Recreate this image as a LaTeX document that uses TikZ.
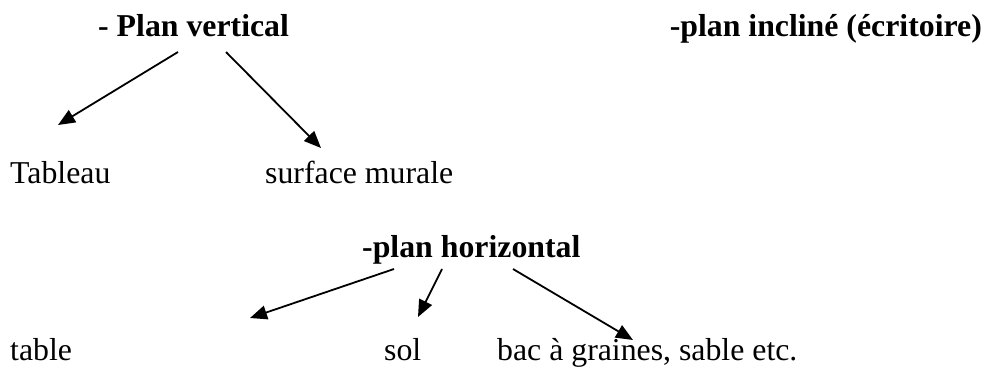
\documentclass[tikz,border=0pt]{standalone}
\usepackage{fontspec}
\setmainfont{Liberation Serif}
\usetikzlibrary{arrows.meta}
\begin{document}
\begin{tikzpicture}[x=1pt,y=-1pt,
  lbl/.style={anchor=base west,inner sep=0pt,font=\fontsize{31.8}{36}\selectfont},
  hdr/.style={lbl,font=\fontsize{31.8}{36}\selectfont\bfseries},
  arr/.style={line width=1.8pt,-{Triangle[length=17pt,width=14pt]}}]
\useasboundingbox (0,0) rectangle (986,373);
\node[hdr] (pv) at (98,36) {- Plan vertical};
\node[hdr,anchor=base east] (pi) at (982,36) {-plan incliné (écritoire)};
\node[lbl] (tab) at (10,183) {Tableau};
\node[lbl] (sm) at (265,183) {surface murale};
\node[hdr] (ph) at (362,257) {-plan horizontal};
\node[lbl] (tbl) at (10,360) {table};
\node[lbl] (sol) at (384,360) {sol};
\node[lbl] (bac) at (497,360) {bac à graines, sable etc.};
\coordinate (a1s) at (178,52); \coordinate (a1e) at (58,125);
\coordinate (a2s) at (226,52); \coordinate (a2e) at (321,148);
\coordinate (a3s) at (394,269); \coordinate (a3e) at (250,318);
\coordinate (a4s) at (442,269); \coordinate (a4e) at (418,317);
\coordinate (a5s) at (513,269); \coordinate (a5e) at (633,340);
\draw[arr] (a1s) -- (a1e);
\draw[arr] (a2s) -- (a2e);
\draw[arr] (a3s) -- (a3e);
\draw[arr] (a4s) -- (a4e);
\draw[arr] (a5s) -- (a5e);
\end{tikzpicture}
\end{document}
